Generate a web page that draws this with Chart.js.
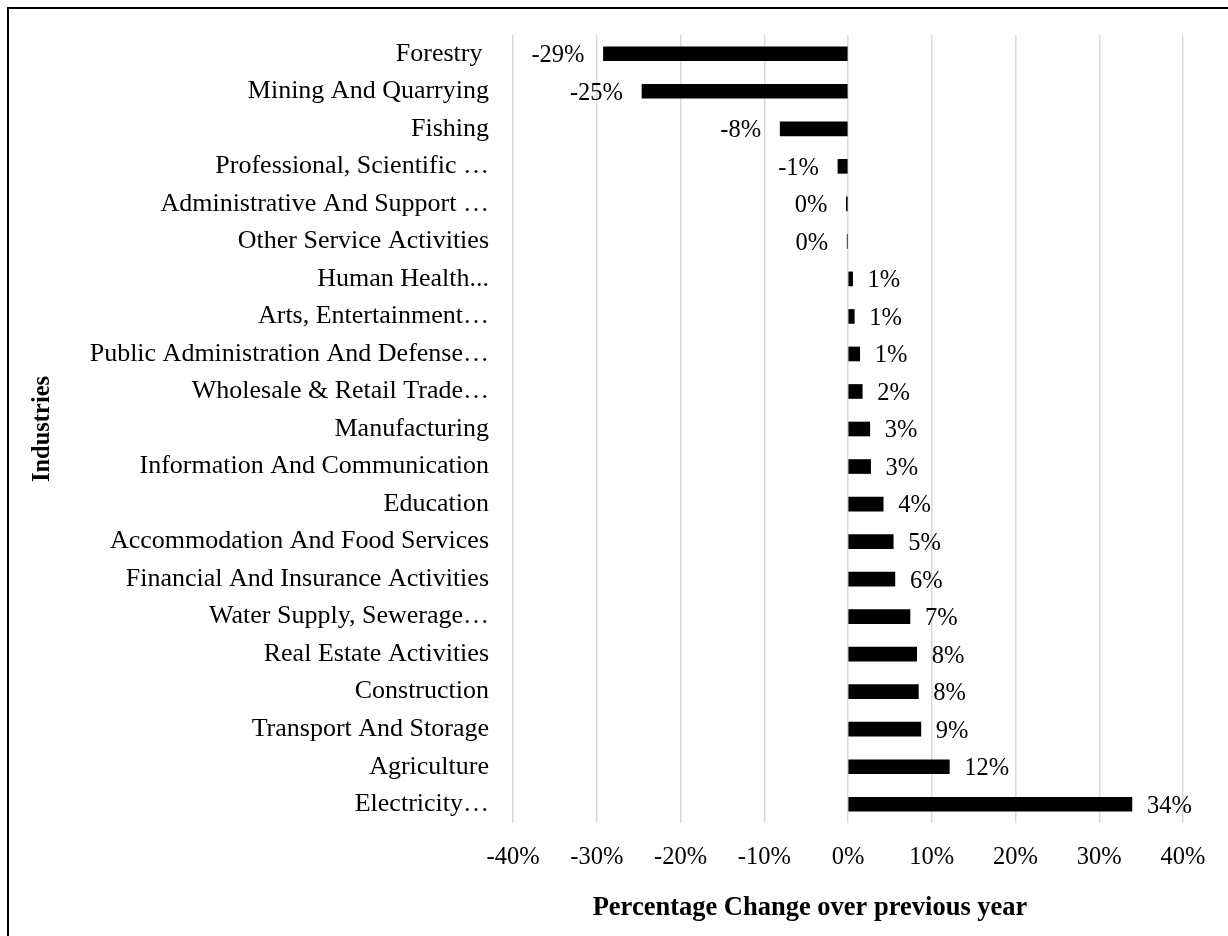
<!DOCTYPE html>
<html>
<head>
<meta charset="utf-8">
<script src="https://cdn.jsdelivr.net/npm/chart.js@4.4.0/dist/chart.umd.min.js"></script>
<style>
  body { margin: 0; background: #fff; overflow: hidden; }
  #frame {
    position: absolute;
    left: 7px;
    top: 7px;
    width: 1400px;
    height: 1100px;
    border: 2px solid #000;
  }
  #wrap {
    position: absolute;
    left: 10px;
    top: 10px;
    width: 1218px;
    height: 926px;
  }
</style>
</head>
<body>
<div id="frame"></div>
<div id="wrap"><canvas id="industryChart"></canvas></div>
<script>
const industries = [
  "Forestry ",
  "Mining And Quarrying",
  "Fishing",
  "Professional, Scientific …",
  "Administrative And Support …",
  "Other Service Activities",
  "Human Health...",
  "Arts, Entertainment…",
  "Public Administration And Defense…",
  "Wholesale & Retail Trade…",
  "Manufacturing",
  "Information And Communication",
  "Education",
  "Accommodation And Food Services",
  "Financial And Insurance Activities",
  "Water Supply, Sewerage…",
  "Real Estate Activities",
  "Construction",
  "Transport And Storage",
  "Agriculture",
  "Electricity…",
];

// percentage change over previous year
const changes = [
  -29.2, -24.6, -8.1, -1.2, -0.2, -0.1, 0.55, 0.75, 1.4, 1.7, 2.6, 2.7,
  4.2, 5.4, 5.6, 7.4, 8.2, 8.4, 8.7, 12.1, 33.9,
];

const xTicks = [-40, -30, -20, -10, 0, 10, 20, 30, 40];

const xTitle = "Percentage Change over previous year";
const yTitle = "Industries";

const serif = "'Liberation Serif', 'Times New Roman', serif";
const fontSize = 24.5;
const catFontSize = 26;

// labels at the outer end of each bar + the x axis title
const barLabels = {
  id: "barLabels",
  afterDatasetsDraw(chart) {
    const ctx = chart.ctx;
    const meta = chart.getDatasetMeta(0);
    ctx.save();
    ctx.font = fontSize + "px " + serif;
    ctx.fillStyle = "#000";
    ctx.textBaseline = "middle";
    meta.data.forEach((bar, i) => {
      const v = changes[i];
      const text = Math.round(v) + "%";
      if (v < 0) {
        ctx.textAlign = "right";
        ctx.fillText(text, bar.x - 19, bar.y + 2);
      } else {
        ctx.textAlign = "left";
        ctx.fillText(text, bar.x + 15, bar.y + 2);
      }
    });

    // x axis title sits a bit left of the plot centre
    const area = chart.chartArea;
    ctx.font = "bold 26.5px " + serif;
    ctx.textAlign = "center";
    ctx.fillText(xTitle, (area.left + area.right) / 2 - 38, area.bottom + 85);
    ctx.restore();
  },
};

Chart.defaults.font.family = serif;
Chart.defaults.font.size = fontSize;
Chart.defaults.color = "#000";

const chartCtx = document.getElementById("industryChart").getContext("2d");
const industryChart = new Chart(chartCtx, {
  type: "bar",
  data: {
    labels: industries,
    datasets: [
      {
        data: changes,
        backgroundColor: "#000",
        barThickness: 14,
      },
    ],
  },
  options: {
    indexAxis: "y",
    responsive: true,
    maintainAspectRatio: false,
    animation: false,
    layout: {
      padding: { top: 25, right: 45, bottom: 0, left: 0 },
    },
    plugins: {
      legend: { display: false },
      tooltip: { enabled: false },
    },
    scales: {
      x: {
        min: -40,
        max: 40,
        afterBuildTicks: (scale) => {
          scale.ticks = xTicks.map((v) => ({ value: v }));
        },
        afterFit: (scale) => {
          scale.height = 113;
        },
        ticks: {
          padding: 20,
          callback: (v) => v + "%",
        },
        grid: {
          color: "#d9d9d9",
          lineWidth: 1.5,
          drawTicks: false,
        },
        border: { display: false },
      },
      y: {
        afterFit: (scale) => {
          scale.width = 503;
          scale.paddingTop = 0;
          scale.paddingBottom = 0;
        },
        ticks: {
          autoSkip: false,
          padding: 16,
          font: { size: catFontSize },
        },
        grid: { display: false },
        border: { display: false },
        title: {
          display: true,
          text: yTitle,
          font: { weight: "bold", size: fontSize },
          padding: { top: 18, bottom: 0 },
        },
      },
    },
  },
  plugins: [barLabels],
});
</script>
</body>
</html>
